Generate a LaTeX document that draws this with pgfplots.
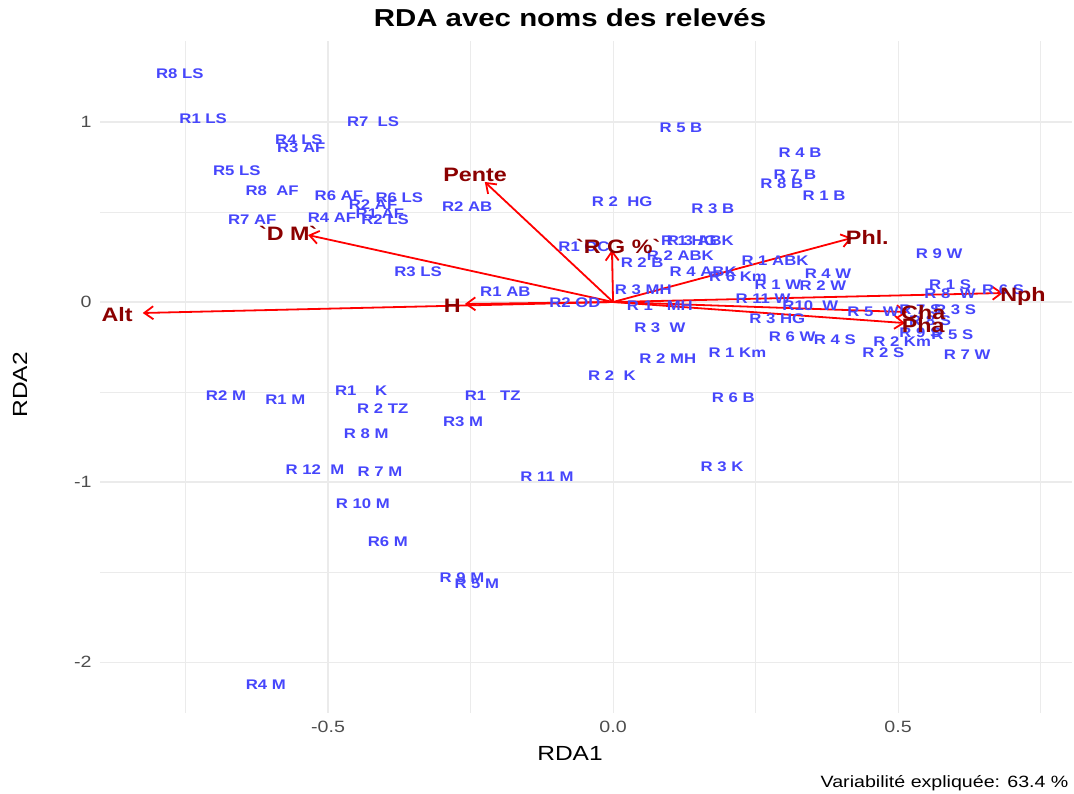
\documentclass[border=0pt]{standalone}
\usepackage{fontspec}
\setmainfont{Liberation Sans}[FakeStretch=1.2]
\newfontfamily\envfont{Liberation Sans}[FakeStretch=1.2,Ligatures=TeXOff]
\usepackage{pgfplots}
\pgfplotsset{compat=1.18}
\usepackage{pgfplotstable}
\usetikzlibrary{arrows.meta}
\definecolor{sitecol}{RGB}{70,70,252}
\definecolor{envcol}{RGB}{139,0,0}
\definecolor{gridcol}{RGB}{235,235,235}
\definecolor{tickcol}{RGB}{77,77,77}

\pgfplotstableread[col sep=semicolon]{
x;y;lab
-0.760;1.267;R8 LS
-0.719;1.022;R1 LS
-0.421;1.000;R7~~LS
-0.551;0.900;R4 LS
-0.547;0.861;R3 AF
-0.660;0.733;R5 LS
-0.598;0.617;R8~~AF
-0.481;0.594;R6 AF
-0.375;0.578;R6 LS
-0.421;0.539;R2 AF
-0.409;0.494;R1 AF
-0.493;0.467;R4 AF
-0.400;0.461;R2 LS
-0.633;0.456;R7 AF
-0.342;0.172;R3 LS
-0.256;0.533;R2 AB
-0.189;0.061;R1 AB
-0.067;0.000;R2 OD
-0.051;0.306;R1 OC
0.016;0.556;R 2~~HG
0.175;0.517;R 3 B
0.119;0.972;R 5 B
0.328;0.828;R 4 B
0.319;0.706;R 7 B
0.296;0.661;R 8 B
0.370;0.594;R 1 B
0.051;0.222;R 2 B
0.118;0.256;R 2 ABK
0.133;0.344;R 1 HG
0.153;0.344;R 3 ABK
0.158;0.167;R 4 ABK
0.284;0.233;R 1 ABK
0.219;0.144;R 6 Km
0.377;0.156;R 4 W
0.289;0.100;R 1 W
0.368;0.094;R 2 W
0.263;0.022;R 11 W
0.346;-0.017;R10~~W
0.288;-0.089;R 3 HG
0.053;0.067;R 3 MH
0.082;-0.017;R 1~~~MH
0.082;-0.144;R 3~~W
0.096;-0.311;R 2 MH
0.218;-0.278;R 1 Km
0.314;-0.189;R 6 W
0.389;-0.206;R 4 S
0.507;-0.222;R 2 Km
0.474;-0.283;R 2 S
0.621;-0.289;R 7 W
0.572;0.267;R 9 W
0.591;0.100;R 1 S
0.591;0.050;R 8~~W
0.684;0.067;R 6 S
0.456;-0.050;R 5~~W
0.539;-0.039;R 7 S
0.600;-0.039;R 3 S
0.556;-0.100;R 8 S
0.539;-0.172;R 9 S
0.595;-0.183;R 5 S
-0.002;-0.406;R 2~~K
0.211;-0.528;R 6 B
0.191;-0.911;R 3 K
-0.679;-0.522;R2 M
-0.575;-0.544;R1 M
-0.442;-0.494;R1~~~~K
-0.404;-0.589;R 2 TZ
-0.211;-0.522;R1~~~TZ
-0.263;-0.661;R3 M
-0.433;-0.733;R 8 M
-0.523;-0.928;R 12~~M
-0.409;-0.944;R 7 M
-0.116;-0.972;R 11 M
-0.439;-1.117;R 10 M
-0.395;-1.328;R6 M
-0.265;-1.533;R 9 M
-0.239;-1.561;R 5 M
-0.609;-2.122;R4 M
}\sites

\pgfplotstableread[col sep=semicolon]{
x;y;lab
-0.870;-0.072;Alt
-0.282;-0.022;H
-0.242;0.706;Pente
-0.570;0.383;`D M`
0.009;0.306;`R G \%`
0.446;0.361;Phl.
0.719;0.039;Nph
0.544;-0.061;Cha
0.544;-0.128;Pha
}\envlab

\begin{document}
\begin{tikzpicture}
\useasboundingbox (0,0) rectangle (1074bp,794bp);
\begin{axis}[
  at={(100bp,81bp)}, anchor=south west,
  scale only axis, width=972bp, height=672bp,
  xmin=-0.9, xmax=0.805, ymin=-2.283, ymax=1.45,
  axis line style={draw=none},
  major tick length=0pt, minor tick length=0pt,
  xtick={-0.5,0,0.5}, xticklabels={-0.5,0.0,0.5},
  ytick={-2,-1,0,1}, yticklabels={-2,-1,0,1},
  minor xtick={-0.75,-0.25,0.25,0.75},
  minor ytick={-1.5,-0.5,0.5},
  grid=both,
  major grid style={gridcol, line width=1.1bp},
  minor grid style={gridcol, line width=0.55bp},
  tick label style={font=\fontsize{16.4}{18}\selectfont, text=tickcol},
  xticklabel style={yshift=-5bp},
  yticklabel style={xshift=-5bp},
  clip=false,
]
\addplot[draw=none, mark=none, nodes near coords, point meta=explicit symbolic,
  nodes near coords style={anchor=center, inner sep=0pt, text height=10bp, text depth=0pt,
  font=\fontsize{14}{16}\selectfont\bfseries, text=sitecol}]
  table[x=x, y=y, meta=lab]{\sites};
\addplot[red, line width=1.8bp, -{Straight Barb[length=9bp,width=13bp]}] coordinates {(0,0) (-0.825,-0.061)};
\addplot[red, line width=1.8bp, -{Straight Barb[length=9bp,width=13bp]}] coordinates {(0,0) (-0.260,-0.011)};
\addplot[red, line width=1.8bp, -{Straight Barb[length=9bp,width=13bp]}] coordinates {(0,0) (-0.225,0.667)};
\addplot[red, line width=1.8bp, -{Straight Barb[length=9bp,width=13bp]}] coordinates {(0,0) (-0.535,0.372)};
\addplot[red, line width=1.8bp, -{Straight Barb[length=9bp,width=13bp]}] coordinates {(0,0) (-0.002,0.289)};
\addplot[red, line width=1.8bp, -{Straight Barb[length=9bp,width=13bp]}] coordinates {(0,0) (0.419,0.356)};
\addplot[red, line width=1.8bp, -{Straight Barb[length=9bp,width=13bp]}] coordinates {(0,0) (0.684,0.050)};
\addplot[red, line width=1.8bp, -{Straight Barb[length=9bp,width=13bp]}] coordinates {(0,0) (0.516,-0.056)};
\addplot[red, line width=1.8bp, -{Straight Barb[length=9bp,width=13bp]}] coordinates {(0,0) (0.512,-0.117)};
\addplot[draw=none, mark=none, nodes near coords, point meta=explicit symbolic,
  nodes near coords style={anchor=center, inner sep=0pt, text height=14bp, text depth=0pt,
  font=\envfont\fontsize{19.5}{22}\selectfont\bfseries, text=envcol}]
  table[x=x, y=y, meta=lab]{\envlab};
\end{axis}
\node[anchor=base, font=\fontsize{24.6}{28}\selectfont\bfseries] at (570bp,767bp) {RDA avec noms des relevés};
\node[anchor=base, font=\fontsize{20.5}{24}\selectfont] at (570bp,34bp) {RDA1};
\node[anchor=base, rotate=90, font=\fontsize{20.5}{24}\selectfont] at (27bp,409bp) {RDA2};
\node[anchor=base east, font=\fontsize{16.4}{18}\selectfont] at (1072bp,7bp) {Variabilité expliquée: 63.4 \%};
\end{tikzpicture}
\end{document}
